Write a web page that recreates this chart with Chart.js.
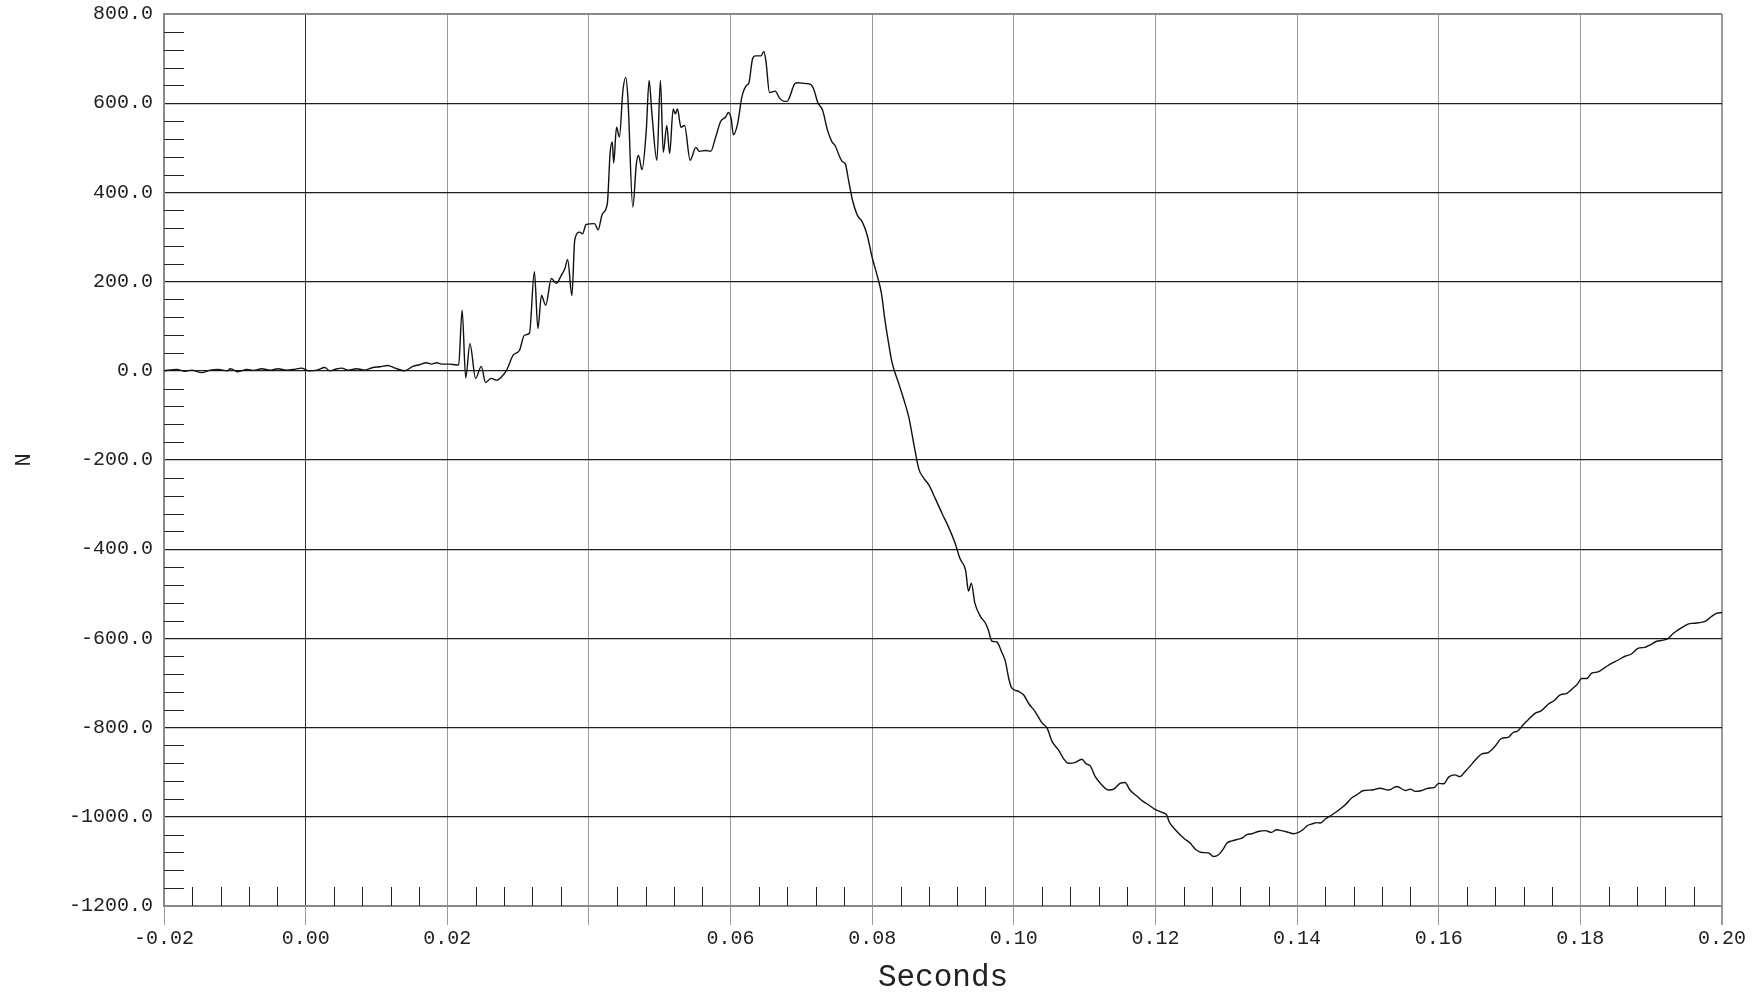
<!DOCTYPE html>
<html>
<head>
<meta charset="utf-8">
<script src="https://cdn.jsdelivr.net/npm/chart.js@4/dist/chart.umd.min.js"></script>
<style>
  html, body { margin: 0; padding: 0; background: #ffffff; }
  #wrap { width: 1754px; height: 993px; }
</style>
</head>
<body>
<div id="wrap"><canvas id="c" width="1754" height="993"></canvas></div>
<script>
// ---- data ----
const timeS = [
-0.0200,-0.0182,-0.0170,-0.0161,-0.0147,-0.0135,-0.0123,-0.0111,-0.0106,-0.0096,
-0.0083,-0.0074,-0.0062,-0.0050,-0.0039,-0.0027,-0.0017,-0.0006,0.0004,0.0016,
0.0027,0.0034,0.0041,0.0051,0.0060,0.0072,0.0084,0.0095,0.0105,0.0116,
0.0126,0.0140,0.0152,0.0161,0.0170,0.0178,0.0185,0.0192,0.0203,0.0213,
0.0216,0.0221,0.0226,0.0232,0.0240,0.0248,0.0254,0.0262,0.0270,0.0277,
0.0284,0.0293,0.0302,0.0309,0.0316,0.0323,0.0328,0.0333,0.0339,0.0347,
0.0354,0.0361,0.0366,0.0370,0.0376,0.0380,0.0387,0.0391,0.0396,0.0408,
0.0413,0.0419,0.0426,0.0430,0.0433,0.0435,0.0439,0.0443,0.0448,0.0452,
0.0455,0.0462,0.0467,0.0470,0.0475,0.0481,0.0485,0.0489,0.0496,0.0501,
0.0505,0.0510,0.0514,0.0519,0.0522,0.0525,0.0530,0.0535,0.0543,0.0551,
0.0556,0.0565,0.0572,
0.0579,0.0586,0.0593,0.0597,0.0601,0.0604,0.0610,0.0616,0.0622,0.0626,
0.0631,0.0635,0.0643,0.0647,0.0650,0.0655,0.0663,0.0669,0.0676,0.0680,
0.0683,0.0690,0.0694,0.0706,0.0713,0.0718,0.0723,0.0730,0.0737,0.0743,
0.0748,0.0753,0.0758,0.0762,0.0767,0.0772,0.0779,0.0786,0.0793,0.0800,
0.0807,0.0813,0.0818,0.0824,0.0828,0.0838,0.0845,0.0852,0.0859,0.0866,
0.0873,0.0880,0.0889,0.0899,0.0908,0.0917,0.0924,0.0932,0.0936,0.0940,
0.0945,0.0953,0.0960,0.0964,0.0969,0.0976,0.0983,0.0988,0.0993,0.0997,
0.1007,0.1014,0.1021,0.1030,0.1040,0.1047,0.1054,0.1063,0.1070,0.1077,
0.1087,0.1096,0.1102,0.1108,0.1115,0.1124,0.1134,0.1141,0.1150,0.1157,
0.1164,0.1174,0.1183,0.1190,0.1200,0.1209,0.1216,0.1219,0.1228,0.1240,
0.1249,0.1256,0.1265,0.1275,0.1282,0.1289,0.1295,0.1301,0.1308,0.1315,
0.1322,0.1329,0.1336,0.1345,0.1355,0.1364,0.1371,0.1378,0.1388,0.1395,
0.1402,0.1409,0.1414,0.1421,0.1428,0.1433,0.1440,0.1449,0.1458,0.1468,
0.1477,0.1484,0.1494,0.1506,0.1517,0.1529,0.1541,0.1553,0.1560,0.1567,
0.1576,0.1585,0.1594,0.1600,0.1607,0.1614,0.1623,0.1630,0.1637,0.1644,
0.1651,0.1661,0.1670,0.1679,0.1689,0.1698,0.1705,0.1712,0.1719,0.1726,
0.1736,0.1745,0.1755,0.1764,0.1771,0.1781,0.1788,0.1795,0.1802,0.1809,
0.1816,0.1825,0.1835,0.1844,0.1853,0.1863,0.1872,0.1882,0.1891,0.1898,
0.1907,0.1917,0.1924,0.1931,0.1938,0.1945,0.1952,0.1961,0.1971,0.1978,
0.1985,0.1992,0.2000
];

const forceN = [
0,3,-1,1.5,-4,1.5,3,0,4.5,-2,
3,1,4.5,1.5,4.5,1.5,3,6,0,1.5,
7.5,0,3,6,1.5,4.5,1.5,7.5,9,12,
6,0,10.5,13.5,18,15,18,15,15,13,
14,136,-16,61,-17,10,-26,-17,-21,-13,
2,35,46,80,84,222,95,169,147,207,
196,214,229,249,169,293,311,307,328,330,
316,352,375,490,513,466,546,524,628,658,
613,367,464,483,451,539,651,576,472,651,
490,550,487,587,576,587,546,550,472,501,
492,494,492,
524,559,569,579,564,529,554,614,639,646,
699,706,706,716,694,624,627,612,604,604,
612,642,646,644,642,629,602,584,539,514,
504,484,469,464,424,384,349,334,304,254,
214,174,114,54,19,-31,-66,-106,-166,-221,
-241,-256,-286,-321,-351,-386,-421,-448,-494,-476,
-521,-551,-566,-581,-606,-608,-631,-651,-691,-711,
-719,-727,-746,-764,-790,-801,-831,-850,-869,-880,
-878,-871,-881,-886,-910,-928,-940,-938,-925,-923,
-940,-954,-966,-973,-984,-990,-996,-1010,-1029,-1048,
-1059,-1072,-1080,-1081,-1089,-1085,-1074,-1059,-1054,-1051,
-1048,-1040,-1038,-1033,-1031,-1035,-1029,-1031,-1035,-1038,
-1035,-1028,-1020,-1016,-1013,-1014,-1005,-996,-986,-973,
-958,-951,-941,-940,-936,-940,-932,-941,-938,-943,
-941,-936,-934,-925,-926,-911,-906,-910,-899,-887,
-874,-859,-856,-843,-824,-822,-811,-807,-794,-783,
-768,-762,-747,-738,-727,-723,-714,-704,-690,-690,
-678,-675,-665,-656,-649,-640,-635,-622,-620,-615,
-607,-604,-600,-589,-581,-574,-568,-566,-564,-560,
-551,-544,-542
];

const xTickLabels = ['-0.02','0.00','0.02','','0.06','0.08','0.10','0.12','0.14','0.16','0.18','0.20'];
const yTickLabels = ['-1200.0','-1000.0','-800.0','-600.0','-400.0','-200.0','0.0','200.0','400.0','600.0','800.0'];
const xTitle = 'Seconds';
const yTitle = 'N';

// ---- axis settings ----
const X_MIN = -0.02, X_MAX = 0.20, X_STEP = 0.02, X_MINOR_PER_MAJOR = 5;
const Y_MIN = -1200, Y_MAX = 800, Y_STEP = 200, Y_MINOR_PER_MAJOR = 5;

const points = timeS.map((t, i) => ({ x: t, y: forceN[i] }));

const FONT = "'Liberation Mono', 'DejaVu Sans Mono', monospace";
const FRAME = '#8a8a8a';
const VGRID = '#9a9a9a';
const HGRID = '#1e1e1e';

const minorTicks = {
  id: 'minorTicks',
  beforeDatasetsDraw(chart) {
    const { ctx, chartArea: a, scales: { x, y } } = chart;
    ctx.save();
    ctx.strokeStyle = '#222';
    ctx.lineWidth = 1;
    ctx.beginPath();
    const nx = Math.round((X_MAX - X_MIN) / X_STEP) * X_MINOR_PER_MAJOR;
    for (let i = 1; i < nx; i++) {
      if (i % X_MINOR_PER_MAJOR === 0) continue;
      const v = X_MIN + i * X_STEP / X_MINOR_PER_MAJOR;
      const px = Math.round(x.getPixelForValue(v)) + 0.5;
      ctx.moveTo(px, a.bottom);
      ctx.lineTo(px, a.bottom - 19);
    }
    const ny = Math.round((Y_MAX - Y_MIN) / Y_STEP) * Y_MINOR_PER_MAJOR;
    for (let j = 1; j < ny; j++) {
      if (j % Y_MINOR_PER_MAJOR === 0) continue;
      const v = Y_MIN + j * Y_STEP / Y_MINOR_PER_MAJOR;
      const py = Math.round(y.getPixelForValue(v)) + 0.5;
      ctx.moveTo(a.left, py);
      ctx.lineTo(a.left + 20, py);
    }
    ctx.stroke();
    ctx.restore();
  }
};

new Chart(document.getElementById('c'), {
  type: 'line',
  data: {
    datasets: [{
      data: points,
      borderColor: '#111',
      borderWidth: 1.4,
      pointRadius: 0,
      cubicInterpolationMode: 'monotone',
      fill: false
    }]
  },
  options: {
    responsive: false,
    animation: false,
    layout: { padding: { top: 14, right: 32, left: 0, bottom: 0 } },
    plugins: { legend: { display: false }, tooltip: { enabled: false } },
    scales: {
      x: {
        type: 'linear',
        min: X_MIN, max: X_MAX,
        afterFit(s) { s.height = 87; },
        ticks: {
          stepSize: X_STEP,
          autoSkip: false,
          maxRotation: 0,
          padding: 2,
          color: '#222',
          font: { family: FONT, size: 20 },
          callback: (v, i) => xTickLabels[i] ?? ''
        },
        grid: {
          color: c => (c.tick && Math.abs(c.tick.value) < 1e-9) ? '#333' : VGRID,
          lineWidth: c => (c.tick && Math.abs(c.tick.value - X_MAX) < 1e-9) ? 2 : 1,
          tickColor: VGRID,
          tickLength: 19,
          drawTicks: true
        },
        border: { color: FRAME, width: 2 },
        title: {
          display: true, text: xTitle, color: '#222',
          font: { family: FONT, size: 31, lineHeight: 1.0 },
          padding: { top: 0, bottom: 0 }
        }
      },
      y: {
        type: 'linear',
        min: Y_MIN, max: Y_MAX,
        afterFit(s) { s.width = 164; s.paddingTop = 0; s.paddingBottom = 0; },
        ticks: {
          stepSize: Y_STEP,
          padding: 11,
          color: '#222',
          font: { family: FONT, size: 20 },
          callback: (v, i) => yTickLabels[i] ?? ''
        },
        grid: {
          color: c => (c.tick && (c.tick.value === Y_MAX || c.tick.value === Y_MIN)) ? FRAME : HGRID,
          lineWidth: c => (c.tick && (c.tick.value === Y_MAX || c.tick.value === Y_MIN)) ? 2 : 1.2,
          drawTicks: false
        },
        border: { color: FRAME, width: 2 },
        title: {
          display: true, text: yTitle, color: '#222',
          font: { family: FONT, size: 22, lineHeight: 1.2 },
          padding: { top: 11, bottom: 0 }
        }
      }
    }
  },
  plugins: [minorTicks]
});
</script>
</body>
</html>
